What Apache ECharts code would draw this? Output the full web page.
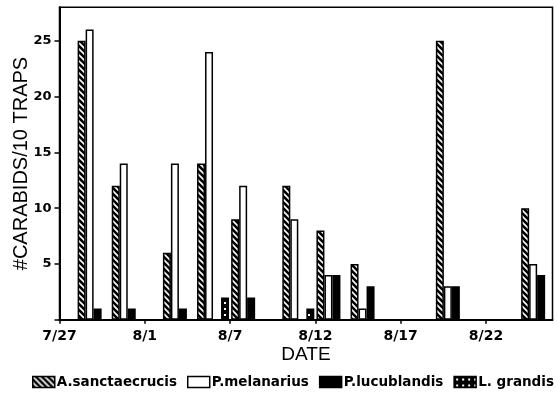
<!DOCTYPE html>
<html><head><meta charset="utf-8">
<script src="https://cdn.jsdelivr.net/npm/echarts@6/dist/echarts.min.js"></script>
<style>html,body{margin:0;padding:0;background:#fff}#c{width:557px;height:402px}</style>
</head><body><div id="c"></div>
<script>
// ---- data ----
const sampleDays = [2, 4, 7, 9, 11, 14, 16, 18, 23, 28];
const aSanctaecrucis = [25, 12, 6, 14, 9, 12, 8, 5, 25, 10];
const pMelanarius   = [26, 14, 14, 24, 12, 9, 4, 1, 3, 5];
const pLucublandis  = [1, 1, 1, 0, 2, 0, 4, 3, 3, 4];
const lGrandis      = [0, 0, 0, 2, 0, 1, 0, 0, 0, 0];
const xTickDays   = [0, 5, 10, 15, 20, 25];
const xTickLabels = ['7/27', '8/1', '8/7', '8/12', '8/17', '8/22'];
const yTicks = [0, 5, 10, 15, 20, 25];
const seriesNames = ['A.sanctaecrucis', 'P.melanarius', 'P.lucublandis', 'L. grandis'];

// ---- patterns ----
function hatch() {
  const c = document.createElement('canvas'); c.width = 6; c.height = 6;
  const g = c.getContext('2d');
  g.fillStyle = '#000'; g.fillRect(0, 0, 6, 6);
  g.strokeStyle = '#fff'; g.lineWidth = 1.6;
  g.beginPath();
  g.moveTo(-1, -1); g.lineTo(7, 7);
  g.moveTo(-1, 5); g.lineTo(1, 7);
  g.moveTo(5, -1); g.lineTo(7, 1);
  g.stroke();
  return c;
}
function cross() {
  const c = document.createElement('canvas'); c.width = 6; c.height = 6;
  const g = c.getContext('2d');
  g.fillStyle = '#000'; g.fillRect(0, 0, 6, 6);
  g.fillStyle = '#fff';
  g.fillRect(2, 2, 2, 2);
  return c;
}
const fills = [
  { image: hatch(), repeat: 'repeat' },
  '#fff',
  '#000',
  { image: cross(), repeat: 'repeat' }
];
const seriesData = [aSanctaecrucis, pMelanarius, pLucublandis, lGrandis];

const chart = echarts.init(document.getElementById('c'), null, { renderer: 'canvas' });
const series = seriesData.map((vals, i) => ({
  name: seriesNames[i],
  type: 'bar',
  barWidth: 8,
  barGap: '0%',
  data: sampleDays.map((d, k) => vals[k] > 0 ? [d, vals[k]] : [d, '-']),
  itemStyle: { color: fills[i], borderColor: '#000', borderWidth: 1.5 },
  emphasis: { disabled: true },
  animation: false
}));

chart.setOption({
  animation: false,
  backgroundColor: '#fff',
  grid: { left: 59.5, right: 4.5, top: 7.3, bottom: 82.3, outerBoundsMode: 'none', containLabel: false,
          show: true, borderColor: '#000', borderWidth: 1.5, backgroundColor: 'transparent' },
  legend: {
    bottom: 13, left: 32, width: 540, itemWidth: 22, itemHeight: 11, itemGap: 10,
    icon: 'rect', padding: 0,
    textStyle: { fontFamily: 'DejaVu Sans', fontWeight: 'bold', fontSize: 13.5, color: '#000', padding: [0, 0, 0, -3] },
    itemStyle: { borderColor: '#000', borderWidth: 1.5 },
    data: seriesNames
  },
  xAxis: {
    type: 'value', min: 0, max: 28.9, interval: 5,
    name: 'DATE', nameLocation: 'middle', nameGap: 26, nameMoveOverlap: false,
    nameTextStyle: { fontFamily: 'Liberation Sans', fontSize: 19, color: '#000' },
    axisLine: { show: true, lineStyle: { color: '#000', width: 2 } },
    axisTick: { show: true, length: 4, lineStyle: { color: '#000', width: 1.5 }, customValues: xTickDays },
    axisLabel: {
      customValues: xTickDays, margin: 10,
      formatter: v => xTickLabels[xTickDays.indexOf(v)] || '',
      fontFamily: 'DejaVu Sans', fontWeight: 'bold', fontSize: 14, color: '#000'
    },
    splitLine: { show: false }
  },
  yAxis: {
    type: 'value', min: 0, max: 28, interval: 5,
    name: '#CARABIDS/10 TRAPS', nameLocation: 'middle', nameGap: 28, nameMoveOverlap: false,
    nameTextStyle: { fontFamily: 'Liberation Sans', fontSize: 20, color: '#000' },
    axisLine: { show: true, lineStyle: { color: '#000', width: 2 } },
    axisTick: { show: true, length: 5, lineStyle: { color: '#000', width: 1.5 }, customValues: yTicks },
    axisLabel: {
      customValues: yTicks.filter(v => v > 0), margin: 8,
      fontFamily: 'DejaVu Sans', fontWeight: 'bold', fontSize: 13, color: '#000'
    },
    splitLine: { show: false }
  },
  series: series
});
</script></body></html>
